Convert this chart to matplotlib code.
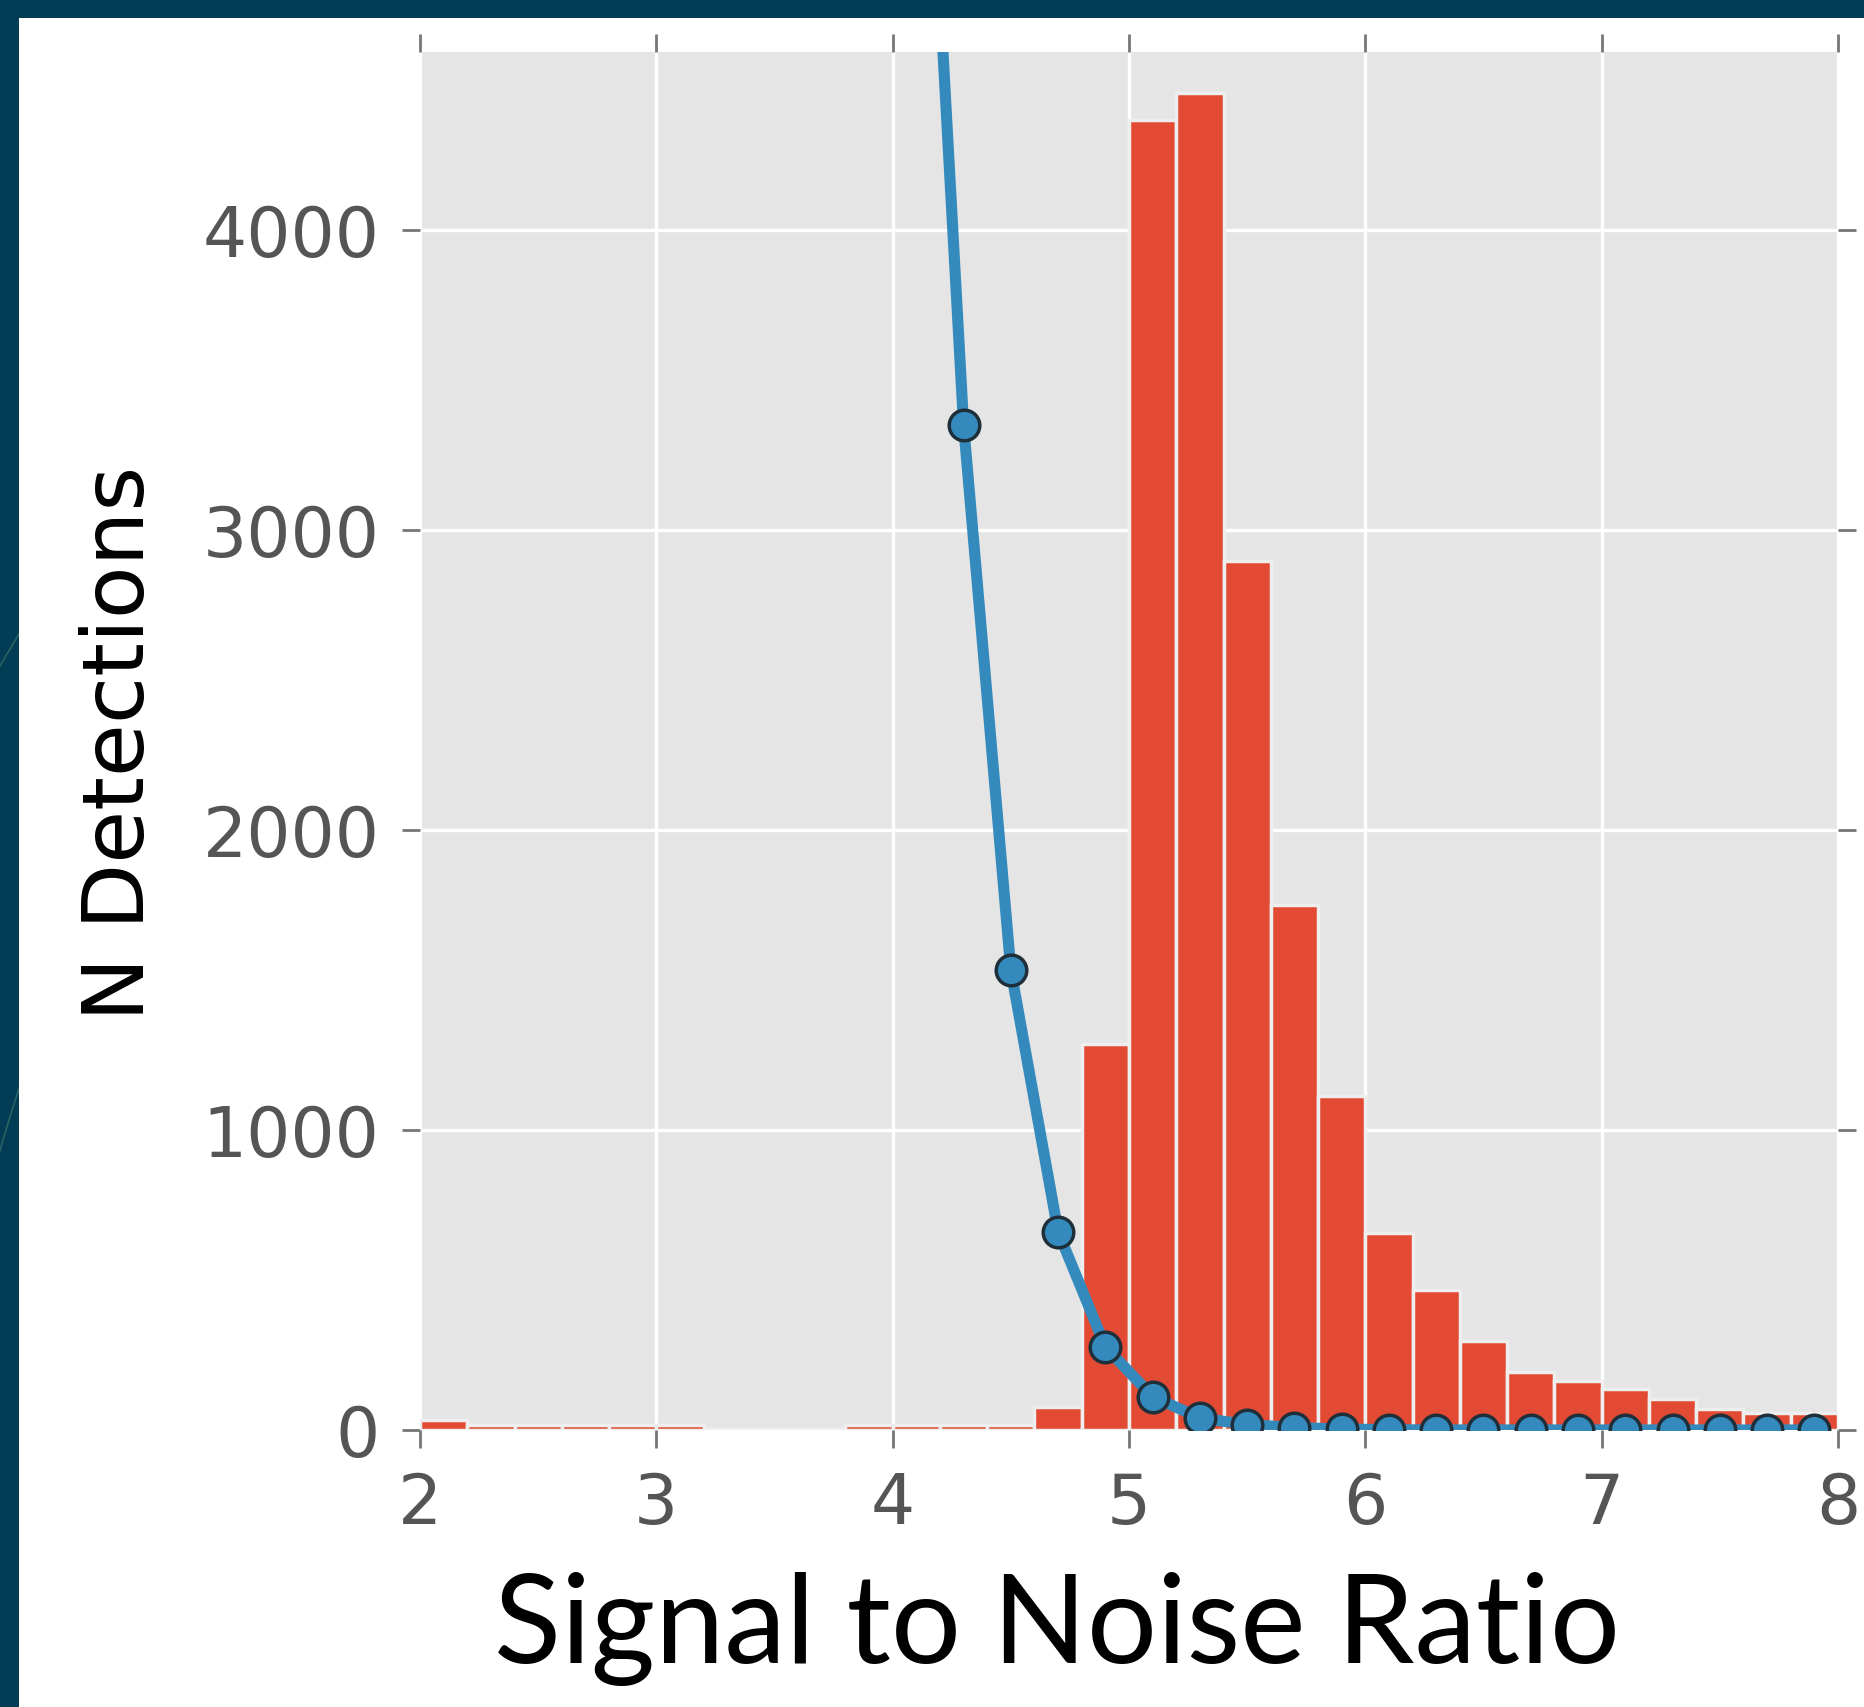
import matplotlib
matplotlib.use('Agg')
import matplotlib.pyplot as plt
from matplotlib.patches import Rectangle, Arc
import numpy as np

plt.style.use('ggplot')

# histogram of detections, bins of 0.2 in SNR
bin_edges = np.round(np.arange(2.0, 8.01, 0.2), 1)
counts = [32, 15, 15, 15, 15, 15, 3, 3, 3, 15, 15, 15, 15, 75,
          1287, 4364, 4455, 2895, 1750, 1113, 657, 467, 297, 194,
          162, 135, 103, 71, 55, 55]

# expected false detections from noise, at bin centres
noise_snr = [4.1, 4.3, 4.5, 4.7, 4.9, 5.1, 5.3, 5.5, 5.7, 5.9, 6.1, 6.3,
             6.5, 6.7, 6.9, 7.1, 7.3, 7.5, 7.7, 7.9]
noise_counts = [6200, 3350, 1533, 661, 277, 111, 40, 18, 8, 3, 1, 0,
                0, 0, 0, 0, 0, 0, 0, 0]

y_ticks = [0, 1000, 2000, 3000, 4000]
x_ticks = [2, 3, 4, 5, 6, 7, 8]

fig = plt.figure(figsize=(18.65, 17.08), dpi=100)
fig.patch.set_facecolor('#033c55')

# white slide panel behind the chart
fig.patches.append(Rectangle((19 / 1865, 0), 1, 1 - 19 / 1708,
                             transform=fig.transFigure, facecolor='white',
                             edgecolor='none', zorder=-5))
# faint decorative arcs in the slide border
for r in [0.9, 1.05]:
    fig.patches.append(Arc((0.55, 0.05), r * 1.3, r * 1.8, angle=0,
                           theta1=95, theta2=175, transform=fig.transFigure,
                           color='#3f7f6a', lw=1.2, alpha=0.6, zorder=-10))

ax = fig.add_axes([0.2252, 0.1622, 0.7603, 0.8065])
ax.set_zorder(1)
ax.set_facecolor('#E5E5E5')

ax.hist(bin_edges[:-1], bins=bin_edges, weights=counts, color='#E24A33',
        edgecolor='#EEEEEE', linewidth=2.5, zorder=2)
ax.plot(noise_snr, noise_counts, color='#348ABD', lw=8, marker='o',
        markersize=22, markerfacecolor='#348ABD', markeredgecolor='#1f2f3a',
        markeredgewidth=2.5, zorder=3)

ax.set_xlim(2, 8)
ax.set_ylim(0, 4590)
ax.set_xticks(x_ticks)
ax.set_yticks(y_ticks)
ax.grid(True, color='white', linewidth=2.4)
ax.set_axisbelow(True)
for s in ax.spines.values():
    s.set_visible(False)

ax.tick_params(axis='both', which='major', direction='out', length=13,
               width=2, color='#777777', labelcolor='#555555',
               labelsize=50, pad=16, top=True, right=True)

fig.text(0.0645, 0.565, 'N Detections', rotation=90, ha='center',
         va='center', fontsize=62, color='black', family='DejaVu Sans')
fig.text(0.567, 0.0263, 'Signal to Noise Ratio', ha='center',
         va='baseline', fontsize=89, color='black', family='Lato')

fig.savefig('out.png', dpi=100, facecolor=fig.get_facecolor())
